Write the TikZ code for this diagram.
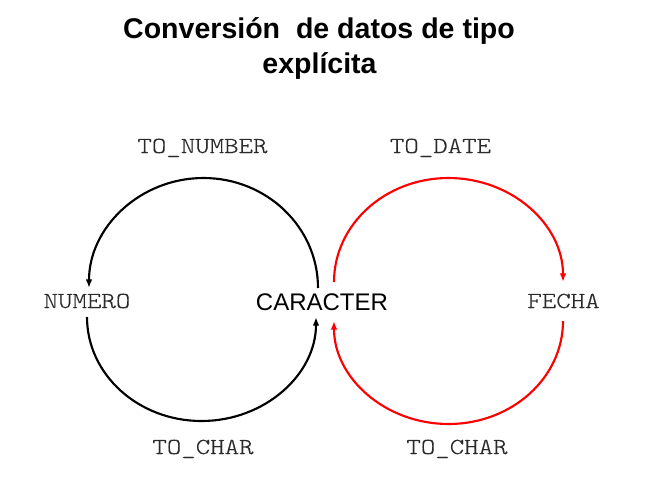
\documentclass[tikz,border=0pt]{standalone}
\usepackage{fontspec}
\setmainfont{Liberation Sans}
\newfontfamily\monofont[FakeStretch=1.2,FakeBold=0.4]{Latin Modern Mono Light}
\usetikzlibrary{arrows.meta}
\definecolor{labgray}{HTML}{2A2A2A}
\definecolor{arcred}{HTML}{FF0000}
\tikzset{
  titletext/.style={font=\fontsize{21.4pt}{24pt}\selectfont\bfseries, anchor=base, inner sep=0pt},
  monolabel/.style={font=\fontsize{17.2pt}{20pt}\selectfont\monofont, text=labgray, anchor=base, inner sep=0pt},
  maintext/.style={font=\fontsize{18pt}{20pt}\selectfont, anchor=base, inner sep=0pt},
  blackarc/.style={line width=1.6pt, draw=black},
  redarc/.style={line width=1.6pt, draw=arcred},
  tip/.style={-{Latex[length=6.5pt,width=5pt]}}
}
\begin{document}
\begin{tikzpicture}[x=0.75pt,y=-0.75pt]
\useasboundingbox (0,0) rectangle (667,497);
% title
\node[titletext] (t1) at (319,38) {Conversión\ \ de datos de tipo};
\node[titletext] (t2) at (319.5,73) {explícita};
% nodes
\node[monolabel] (numero) at (87,308) {NUMERO};
\node[maintext] (car) at (322,310) {CARACTER};
\node[monolabel] (fecha) at (563.5,308) {FECHA};
% function labels
\node[monolabel] (tonum) at (202.5,153) {TO\_NUMBER};
\node[monolabel] (todate) at (440.5,153) {TO\_DATE};
\node[monolabel] (tochar1) at (203,454) {TO\_CHAR};
\node[monolabel] (tochar2) at (457,454) {TO\_CHAR};
% arc end points
\coordinate (bt) at (318,288);
\coordinate (bb) at (87,317);
\coordinate (rt) at (334,282);
\coordinate (rb) at (563,321);
% black arcs
\draw[blackarc,tip] (bt) arc[start angle=0,end angle=-180,x radius=114.5,y radius=110];
\draw[blackarc,tip] (bb) arc[start angle=180,end angle=0,x radius=114.5,y radius=104];
% red arcs
\draw[redarc,tip] (rt) arc[start angle=180,end angle=360,x radius=114.5,y radius=104];
\draw[redarc,tip] (rb) arc[start angle=0,end angle=180,x radius=114.5,y radius=103];
\end{tikzpicture}
\end{document}
